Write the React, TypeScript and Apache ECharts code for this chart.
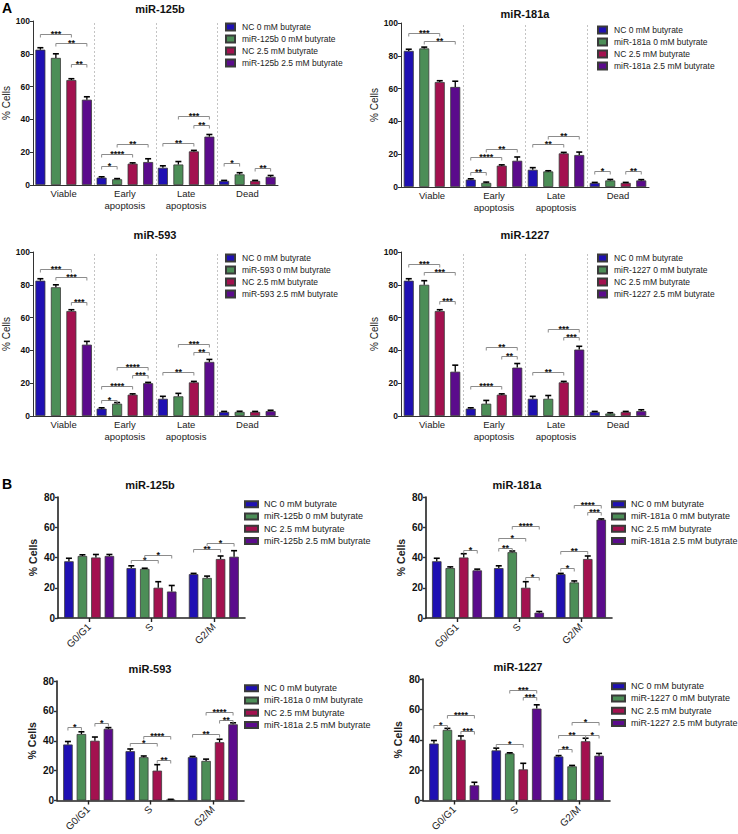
import React, { useEffect, useRef } from "react";
import * as echarts from "echarts";

const FONT = "'Liberation Sans', Arial, Helvetica, sans-serif";
const COLORS = ["#1f10b3", "#4c8e57", "#a3114f", "#5b0b8c"];

// ---------- categories ----------
const CAT_A = ["Viable", "Early\napoptosis", "Late\napoptosis", "Dead"];
const CAT_B = ["G0/G1", "S", "G2/M"];

// ---------- Panel A : miR-125b ----------
const A125_NAMES = ["NC 0 mM butyrate", "miR-125b 0 mM butyrate", "NC 2.5 mM butyrate", "miR-125b 2.5 mM butyrate"];
const A125_VAL = [[82.5, 4.5, 10.5, 2.5], [77.5, 3.5, 12.5, 6.5], [64, 13, 20.5, 2.5], [52, 14, 29.5, 5]];
const A125_ERR = [[1.2, 0.5, 1.2, 0.3], [2.5, 0.4, 1.8, 1], [0.8, 0.5, 0.6, 0.3], [1.8, 2, 1.3, 0.8]];
// [category, barA, barB, y, stars]
const A125_SIG = [[0, 0, 2, 92, 3], [0, 1, 3, 86.6, 2], [0, 2, 3, 74, 2], [1, 0, 1, 11.6, 1], [1, 0, 2, 18.9, 4], [1, 1, 3, 25, 2], [2, 0, 2, 25.6, 2], [2, 1, 3, 42, 3], [2, 2, 3, 36.6, 2], [3, 0, 1, 13.4, 1], [3, 2, 3, 10.5, 2]];

// ---------- Panel A : miR-181a ----------
const A181_NAMES = ["NC 0 mM butyrate", "miR-181a 0 mM butyrate", "NC 2.5 mM butyrate", "miR-181a 2.5 mM butyrate"];
const A181_VAL = [[83, 4.5, 10.5, 2.5], [84.5, 2.5, 9.5, 4], [64, 13, 20.5, 2.5], [61, 16, 19.5, 4]];
const A181_ERR = [[1, 0.5, 1.3, 0.3], [0.8, 0.5, 0.4, 0.6], [0.8, 0.5, 0.6, 0.3], [3.5, 2.3, 1.8, 0.5]];
const A181_SIG = [[0, 0, 2, 94, 3], [0, 1, 3, 89, 2], [1, 0, 1, 9, 2], [1, 0, 2, 18.3, 4], [1, 1, 3, 23, 2], [2, 0, 2, 26, 2], [2, 1, 3, 31, 2], [3, 0, 1, 9.8, 1], [3, 2, 3, 9.5, 2]];

// ---------- Panel A : miR-593 ----------
const A593_NAMES = ["NC 0 mM butyrate", "miR-593 0 mM butyrate", "NC 2.5 mM butyrate", "miR-593 2.5 mM butyrate"];
const A593_VAL = [[82.5, 4.5, 10.5, 2.5], [78.5, 7.5, 12, 2.5], [64, 13, 20.5, 2.5], [43.5, 20, 33, 3]];
const A593_ERR = [[1.2, 0.5, 1.5, 0.3], [1.5, 0.7, 1.8, 0.4], [0.8, 0.5, 0.6, 0.3], [2, 0.5, 1.5, 0.5]];
const A593_SIG = [[0, 0, 2, 89.6, 3], [0, 1, 3, 84.8, 3], [0, 2, 3, 69.5, 3], [1, 0, 1, 10, 1], [1, 0, 2, 18.3, 4], [1, 1, 3, 30, 4], [1, 2, 3, 25, 3], [2, 0, 2, 26.8, 2], [2, 1, 3, 44, 3], [2, 2, 3, 39, 2]];

// ---------- Panel A : miR-1227 ----------
const A1227_NAMES = ["NC 0 mM butyrate", "miR-1227 0 mM butyrate", "NC 2.5 mM butyrate", "miR-1227 2.5 mM butyrate"];
const A1227_VAL = [[82.5, 4.5, 10.5, 2.5], [80, 7.5, 10.5, 1.5], [64, 13, 20.5, 2.5], [27, 29.5, 40.5, 3]];
const A1227_ERR = [[1.2, 0.5, 1.5, 0.3], [2.5, 2, 2, 0.5], [0.8, 0.5, 0.6, 0.3], [4, 2.5, 2, 0.8]];
const A1227_SIG = [[0, 0, 2, 92.7, 3], [0, 1, 3, 87.8, 3], [0, 2, 3, 70, 3], [1, 0, 2, 18.3, 4], [1, 1, 3, 42, 2], [1, 2, 3, 36.6, 2], [2, 0, 2, 26.8, 2], [2, 1, 3, 53, 3], [2, 2, 3, 48, 3]];

// ---------- Panel B : miR-125b ----------
const B125_NAMES = ["NC 0 mM butyrate", "miR-125b 0 mM butyrate", "NC 2.5 mM butyrate", "miR-125b 2.5 mM butyrate"];
const B125_VAL = [[37.5, 33, 29], [41, 32.5, 26.5], [40, 20, 39], [41, 17.5, 40.5]];
const B125_ERR = [[2, 1.5, 0.5], [0.8, 0.4, 1.2], [2, 4, 2], [1, 4, 4]];
const B125_SIG = [[1, 0, 2, 38.3, 1], [1, 1, 3, 41.6, 1], [2, 0, 2, 45.6, 2], [2, 1, 3, 49.6, 1]];

// ---------- Panel B : miR-181a ----------
const B181_NAMES = ["NC 0 mM butyrate", "miR-181a 0 mM butyrate", "NC 2.5 mM butyrate", "miR-181a 2.5 mM butyrate"];
const B181_VAL = [[37.5, 33, 29], [33, 43.5, 23.5], [40, 20, 39], [31.5, 3.5, 65]];
const B181_ERR = [[2, 1.5, 0.5], [0.8, 0.8, 1], [2.5, 4, 2], [0.8, 0.8, 0.5]];
const B181_SIG = [[0, 2, 3, 45, 1], [1, 0, 1, 46.3, 2], [1, 0, 2, 53, 1], [1, 1, 3, 61, 4], [1, 2, 3, 27, 1], [2, 0, 1, 33, 1], [2, 0, 2, 44, 2], [2, 1, 3, 74.7, 4], [2, 2, 3, 70, 3]];

// ---------- Panel B : miR-593 ----------
const B593_NAMES = ["NC 0 mM butyrate", "miR-181a 0 mM butyrate", "NC 2.5 mM butyrate", "miR-181a 2.5 mM butyrate"];
const B593_VAL = [[37.5, 33, 29], [44.5, 29, 26.5], [40, 20, 39], [48, 0.5, 51]];
const B593_ERR = [[2, 1.5, 0.5], [1.5, 0.8, 1.2], [2.5, 4, 2], [0.8, 0.3, 1]];
const B593_SIG = [[0, 0, 1, 49, 1], [0, 2, 3, 52, 1], [1, 0, 2, 38.7, 1], [1, 1, 3, 43.3, 4], [1, 2, 3, 27, 2], [2, 0, 2, 44.6, 2], [2, 1, 3, 59, 4], [2, 2, 3, 54, 2]];

// ---------- Panel B : miR-1227 ----------
const B1227_NAMES = ["NC 0 mM butyrate", "miR-1227 0 mM butyrate", "NC 2.5 mM butyrate", "miR-1227 2.5 mM butyrate"];
const B1227_VAL = [[37.5, 33, 29], [46.5, 31, 22.5], [40, 20.5, 39], [10, 60.5, 29.5]];
const B1227_ERR = [[2, 1.5, 0.6], [1, 0.4, 0.6], [2.5, 4, 2], [2, 2.5, 1.5]];
const B1227_SIG = [[0, 0, 1, 50, 1], [0, 1, 3, 56, 4], [0, 2, 3, 46, 3], [1, 0, 2, 37.4, 1], [1, 1, 3, 73, 3], [1, 2, 3, 68, 3], [2, 0, 1, 34, 2], [2, 0, 2, 43, 2], [2, 1, 3, 52, 1], [2, 2, 3, 43, 1]];

// ---------- layout (positions / sizes only) ----------
type Panel = {
  kind: "A" | "B";
  title: string;
  titleXY: [number, number];
  grid: { left: number; top: number; width: number; height: number };
  legendXY: [number, number];
  names: string[];
  val: number[][];
  err: number[][];
  sig: number[][];
};

const PANELS: Panel[] = [
  { kind: "A", title: "miR-125b", titleXY: [160, 9], grid: { left: 31, top: 21, width: 247, height: 164 }, legendXY: [225, 21], names: A125_NAMES, val: A125_VAL, err: A125_ERR, sig: A125_SIG },
  { kind: "A", title: "miR-181a", titleXY: [525, 14], grid: { left: 401, top: 23, width: 248, height: 164 }, legendXY: [597, 24], names: A181_NAMES, val: A181_VAL, err: A181_ERR, sig: A181_SIG },
  { kind: "A", title: "miR-593", titleXY: [155, 235], grid: { left: 31, top: 252, width: 247, height: 164 }, legendXY: [225, 252], names: A593_NAMES, val: A593_VAL, err: A593_ERR, sig: A593_SIG },
  { kind: "A", title: "miR-1227", titleXY: [525, 235], grid: { left: 401, top: 252, width: 248, height: 164 }, legendXY: [597, 252], names: A1227_NAMES, val: A1227_VAL, err: A1227_ERR, sig: A1227_SIG },
  { kind: "B", title: "miR-125b", titleXY: [150, 485], grid: { left: 58, top: 497, width: 187, height: 121 }, legendXY: [244, 498], names: B125_NAMES, val: B125_VAL, err: B125_ERR, sig: B125_SIG },
  { kind: "B", title: "miR-181a", titleXY: [517, 485], grid: { left: 426, top: 497, width: 186, height: 121 }, legendXY: [611, 498], names: B181_NAMES, val: B181_VAL, err: B181_ERR, sig: B181_SIG },
  { kind: "B", title: "miR-593", titleXY: [150, 669], grid: { left: 57, top: 681, width: 187, height: 122 }, legendXY: [244, 682], names: B593_NAMES, val: B593_VAL, err: B593_ERR, sig: B593_SIG },
  { kind: "B", title: "miR-1227", titleXY: [518, 667], grid: { left: 423, top: 679, width: 187, height: 124 }, legendXY: [611, 680], names: B1227_NAMES, val: B1227_VAL, err: B1227_ERR, sig: B1227_SIG },
];

const BAR = {
  A: { w: 10, gap: 0.55 },
  B: { w: 9.5, gap: 0.42 },
};

function barOffset(k: number, w: number, gap: number) {
  const total = 4 * w + 3 * w * gap;
  return -total / 2 + w / 2 + k * w * (1 + gap);
}

function buildOption() {
  const grids: any[] = [];
  const xAxes: any[] = [];
  const yAxes: any[] = [];
  const series: any[] = [];
  const legends: any[] = [];
  const graphics: any[] = [];

  PANELS.forEach((p, i) => {
    const isA = p.kind === "A";
    const bw = BAR[p.kind].w;
    const bg = BAR[p.kind].gap;
    const ymax = isA ? 100 : 80;
    grids.push({ ...p.grid, containLabel: false });
    xAxes.push({
      type: "category",
      gridIndex: i,
      data: isA ? CAT_A : CAT_B,
      axisLine: { lineStyle: { color: isA ? "#333" : "#222", width: isA ? 1 : 1.6 } },
      axisTick: isA ? { show: false } : { show: true, alignWithLabel: true, length: 4, lineStyle: { color: "#222", width: 1.4 } },
      axisLabel: isA
        ? { fontFamily: FONT, fontSize: 9.5, color: "#222", lineHeight: 12, margin: 2, interval: 0 }
        : { fontFamily: FONT, fontSize: 10, color: "#222", rotate: 45, margin: 7, interval: 0 },
      splitLine: { show: false },
    });
    yAxes.push({
      type: "value",
      gridIndex: i,
      min: 0,
      max: ymax,
      interval: 20,
      name: "% Cells",
      nameLocation: "middle",
      nameGap: isA ? 22 : 20,
      nameTextStyle: { fontFamily: FONT, fontSize: isA ? 10 : 10.5, color: "#222", fontWeight: isA ? "normal" : "bold" },
      axisLine: { show: true, lineStyle: { color: isA ? "#333" : "#222", width: isA ? 1 : 1.6 } },
      axisTick: { show: true, length: 3, lineStyle: { color: "#333", width: isA ? 1 : 1.4 } },
      axisLabel: { fontFamily: FONT, fontSize: isA ? 8.5 : 10, fontWeight: "bold", color: "#111", margin: 3 },
      splitLine: { show: false },
    });

    p.names.forEach((name, s) => {
      series.push({
        type: "bar",
        name,
        xAxisIndex: i,
        yAxisIndex: i,
        data: p.val[s],
        barWidth: bw,
        barGap: bg * 100 + "%",
        itemStyle: { color: COLORS[s], borderColor: "#3a3a3a", borderWidth: 0.8 },
        silent: true,
        z: 2,
      });
    });

    // separators (panel A)
    if (isA) {
      series.push({
        type: "custom",
        xAxisIndex: i,
        yAxisIndex: i,
        silent: true,
        z: 1,
        data: [[0, 0], [1, 0], [2, 0]],
        renderItem: (params: any, api: any) => {
          const c = api.value(0);
          const p0 = api.coord([c, 0]);
          const p1 = api.coord([c, ymax]);
          const band = api.size([1, 0])[0];
          const x = Math.round(p0[0] + band / 2) + 0.5;
          return {
            type: "line",
            shape: { x1: x, y1: p0[1], x2: x, y2: p1[1] },
            style: { stroke: "#c4c4c4", lineWidth: 1, lineDash: [2, 2] },
          };
        },
      });
    }

    // error bars
    const errData: number[][] = [];
    p.val.forEach((row, s) => row.forEach((v, c) => errData.push([c, s, v, p.err[s][c]])));
    series.push({
      type: "custom",
      xAxisIndex: i,
      yAxisIndex: i,
      silent: true,
      z: 4,
      data: errData,
      renderItem: (params: any, api: any) => {
        const c = api.value(0);
        const s = api.value(1);
        const v = api.value(2);
        const e = api.value(3);
        const p0 = api.coord([c, v]);
        const p1 = api.coord([c, v + e]);
        const x = p0[0] + barOffset(s, bw, bg);
        return {
          type: "group",
          children: [
            { type: "line", shape: { x1: x, y1: p0[1], x2: x, y2: p1[1] }, style: { stroke: "#000", lineWidth: 1.3 } },
            { type: "line", shape: { x1: x - 3, y1: p1[1], x2: x + 3, y2: p1[1] }, style: { stroke: "#000", lineWidth: 1.6 } },
          ],
        };
      },
    });

    // significance brackets
    series.push({
      type: "custom",
      xAxisIndex: i,
      yAxisIndex: i,
      silent: true,
      z: 5,
      data: p.sig,
      renderItem: (params: any, api: any) => {
        const c = api.value(0);
        const a = api.value(1);
        const b = api.value(2);
        const y = api.value(3);
        const n = api.value(4);
        const pt = api.coord([c, y]);
        const xa = pt[0] + barOffset(a, bw, bg);
        const xb = pt[0] + barOffset(b, bw, bg);
        const yy = Math.round(pt[1]) + 0.5;
        return {
          type: "group",
          children: [
            {
              type: "polyline",
              shape: { points: [[xa, yy + 3], [xa, yy], [xb, yy], [xb, yy + 3]] },
              style: { stroke: "#8c8c8c", lineWidth: 1, fill: "none" },
            },
            {
              type: "text",
              x: (xa + xb) / 2,
              y: yy - 0.5,
              style: {
                text: "*".repeat(n),
                fontFamily: FONT,
                fontSize: 9,
                lineHeight: 6,
                fontWeight: "bold",
                fill: "#111",
                align: "center",
                verticalAlign: "middle",
              },
            },
          ],
        };
      },
    });

    legends.push({
      data: p.names,
      orient: "vertical",
      left: p.legendXY[0],
      top: p.legendXY[1],
      padding: 0,
      itemGap: 0,
      icon: "rect",
      itemWidth: isA ? 9 : 13,
      itemHeight: isA ? 7 : 6,
      selectedMode: false,
      textStyle: { fontFamily: FONT, fontSize: isA ? 8.5 : 9, color: "#222", lineHeight: isA ? 12 : 12.3, padding: [0, 0, 0, isA ? 2 : 1] },
    });

    graphics.push({
      type: "text",
      x: p.titleXY[0],
      y: p.titleXY[1],
      style: { text: p.title, fontFamily: FONT, fontSize: 11, fontWeight: "bold", fill: "#111", align: "center", verticalAlign: "middle" },
    });
  });

  graphics.push({ type: "text", x: 2, y: 8, style: { text: "A", fontFamily: FONT, fontSize: 14, fontWeight: "bold", fill: "#000", verticalAlign: "middle" } });
  graphics.push({ type: "text", x: 2, y: 484, style: { text: "B", fontFamily: FONT, fontSize: 14, fontWeight: "bold", fill: "#000", verticalAlign: "middle" } });

  return {
    animation: false,
    backgroundColor: "#ffffff",
    textStyle: { fontFamily: FONT },
    grid: grids,
    xAxis: xAxes,
    yAxis: yAxes,
    legend: legends,
    series,
    graphic: graphics,
  };
}

export default function App() {
  const ref = useRef<HTMLDivElement>(null);
  useEffect(() => {
    document.body.style.margin = "0";
    if (!ref.current) return;
    const chart = echarts.init(ref.current, undefined, { renderer: "svg" });
    chart.setOption(buildOption() as any);
    return () => chart.dispose();
  }, []);
  return <div ref={ref} style={{ width: 738, height: 834 }} />;
}
